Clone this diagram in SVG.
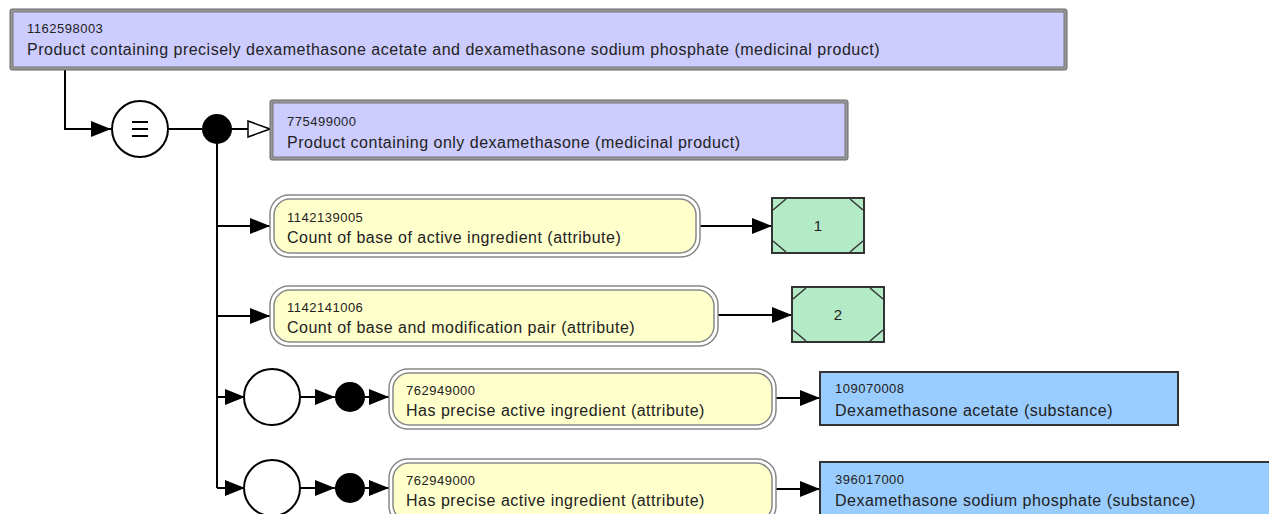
<svg xmlns="http://www.w3.org/2000/svg" width="1269" height="514" viewBox="0 0 1269 514">
<defs>
<style>
.id{font-family:"Liberation Sans",Arial,sans-serif;font-size:13px;letter-spacing:0.5px;fill:#222}
.lb{font-family:"Liberation Sans",Arial,sans-serif;font-size:16px;letter-spacing:0.5px;fill:#222}
.val{font-family:"Liberation Sans",Arial,sans-serif;font-size:15px;fill:#222}
.cn{fill:none;stroke:#000;stroke-width:2}
.prodO{fill:#999;stroke:#666;stroke-width:1}
.prod{fill:#ccccff;stroke:#777;stroke-width:1}
.attrO{fill:#fff;stroke:#888;stroke-width:1.5}
.attr{fill:#ffffcc;stroke:#888;stroke-width:1.5}
.sub{fill:#99ccff;stroke:#333;stroke-width:2}
.cv{fill:#b3ebc6;stroke:#333;stroke-width:2}
.cvl{stroke:#333;stroke-width:1.5}
</style>
<marker id="fa" viewBox="0 0 20 16" refX="20" refY="8" markerWidth="20" markerHeight="16" markerUnits="userSpaceOnUse" orient="auto"><path d="M0,0 L20,8 L0,16 Z" fill="#000"/></marker>
<marker id="oa" viewBox="0 0 24 18" refX="23" refY="9" markerWidth="24" markerHeight="18" markerUnits="userSpaceOnUse" orient="auto"><path d="M1,1 L23,9 L1,17 Z" fill="#fff" stroke="#000" stroke-width="1.5"/></marker>
</defs>
<rect width="1269" height="514" fill="#fff"/>
<g id="connectors">
<path class="cn" d="M65,70 V129 H111" marker-end="url(#fa)"/>
<path class="cn" d="M168,129 H202"/>
<path class="cn" d="M217,129 H270" marker-end="url(#oa)"/>
<path class="cn" d="M217,129 V488"/>
<path class="cn" d="M217,226 H270" marker-end="url(#fa)"/>
<path class="cn" d="M217,316 H270" marker-end="url(#fa)"/>
<path class="cn" d="M217,397 H245" marker-end="url(#fa)"/>
<path class="cn" d="M217,488 H245" marker-end="url(#fa)"/>
<path class="cn" d="M300,397 H335" marker-end="url(#fa)"/>
<path class="cn" d="M300,488 H335" marker-end="url(#fa)"/>
<path class="cn" d="M365,397 H389" marker-end="url(#fa)"/>
<path class="cn" d="M365,488 H389" marker-end="url(#fa)"/>
<path class="cn" d="M700,226 H772" marker-end="url(#fa)"/>
<path class="cn" d="M718,315 H792" marker-end="url(#fa)"/>
<path class="cn" d="M776,398 H820" marker-end="url(#fa)"/>
<path class="cn" d="M776,489 H820" marker-end="url(#fa)"/>
</g>
<g id="n1162598003">
<rect class="prodO" x="10" y="9" width="1057" height="61" rx="2"/>
<rect class="prod" x="13" y="12" width="1051" height="55"/>
<text class="id" x="27" y="33">1162598003</text>
<text class="lb" x="27" y="55">Product containing precisely dexamethasone acetate and dexamethasone sodium phosphate (medicinal product)</text>
</g>
<g id="equiv">
<circle cx="140" cy="129" r="28" fill="#fff" stroke="#000" stroke-width="2"/>
<path d="M132,122 H148 M132,129 H148 M132,136 H148" stroke="#000" stroke-width="2.2"/>
</g>
<g id="conj1"><circle cx="217" cy="129" r="15" fill="#000"/></g>
<g id="n775499000">
<rect class="prodO" x="270" y="100" width="578" height="60" rx="2"/>
<rect class="prod" x="273" y="103" width="572" height="54"/>
<text class="id" x="287" y="126">775499000</text>
<text class="lb" x="287" y="148">Product containing only dexamethasone (medicinal product)</text>
</g>
<g id="a1142139005">
<rect class="attrO" x="270" y="195" width="430" height="62" rx="19"/>
<rect class="attr" x="274" y="199" width="422" height="54" rx="16"/>
<text class="id" x="287" y="222">1142139005</text>
<text class="lb" x="287" y="243">Count of base of active ingredient (attribute)</text>
</g>
<g id="v1">
<rect class="cv" x="772" y="198" width="92" height="55"/>
<path class="cvl" d="M773,210 L786,199 M850,199 L863,210 M773,241 L786,252 M850,252 L863,241"/>
<text class="val" x="818" y="231" text-anchor="middle">1</text>
</g>
<g id="a1142141006">
<rect class="attrO" x="270" y="286" width="448" height="60" rx="19"/>
<rect class="attr" x="274" y="290" width="440" height="52" rx="16"/>
<text class="id" x="287" y="312">1142141006</text>
<text class="lb" x="287" y="333">Count of base and modification pair (attribute)</text>
</g>
<g id="v2">
<rect class="cv" x="792" y="287" width="92" height="55"/>
<path class="cvl" d="M793,299 L806,288 M870,288 L883,299 M793,330 L806,341 M870,341 L883,330"/>
<text class="val" x="838" y="320" text-anchor="middle">2</text>
</g>
<g id="group1"><circle cx="272" cy="397" r="28" fill="#fff" stroke="#000" stroke-width="2"/></g>
<g id="conj2"><circle cx="350" cy="397" r="15" fill="#000"/></g>
<g id="a762949000a">
<rect class="attrO" x="389" y="369" width="387" height="60" rx="19"/>
<rect class="attr" x="393" y="373" width="379" height="52" rx="16"/>
<text class="id" x="406" y="395">762949000</text>
<text class="lb" x="406" y="416">Has precise active ingredient (attribute)</text>
</g>
<g id="s109070008">
<rect class="sub" x="820" y="372" width="358" height="53"/>
<text class="id" x="835" y="393">109070008</text>
<text class="lb" x="835" y="416">Dexamethasone acetate (substance)</text>
</g>
<g id="group2"><circle cx="272" cy="488" r="28" fill="#fff" stroke="#000" stroke-width="2"/></g>
<g id="conj3"><circle cx="350" cy="488" r="15" fill="#000"/></g>
<g id="a762949000b">
<rect class="attrO" x="389" y="459" width="387" height="66" rx="19"/>
<rect class="attr" x="393" y="463" width="379" height="58" rx="16"/>
<text class="id" x="406" y="485">762949000</text>
<text class="lb" x="406" y="506">Has precise active ingredient (attribute)</text>
</g>
<g id="s396017000">
<rect class="sub" x="820" y="462" width="460" height="60"/>
<text class="id" x="835" y="484">396017000</text>
<text class="lb" x="835" y="506">Dexamethasone sodium phosphate (substance)</text>
</g>
</svg>
